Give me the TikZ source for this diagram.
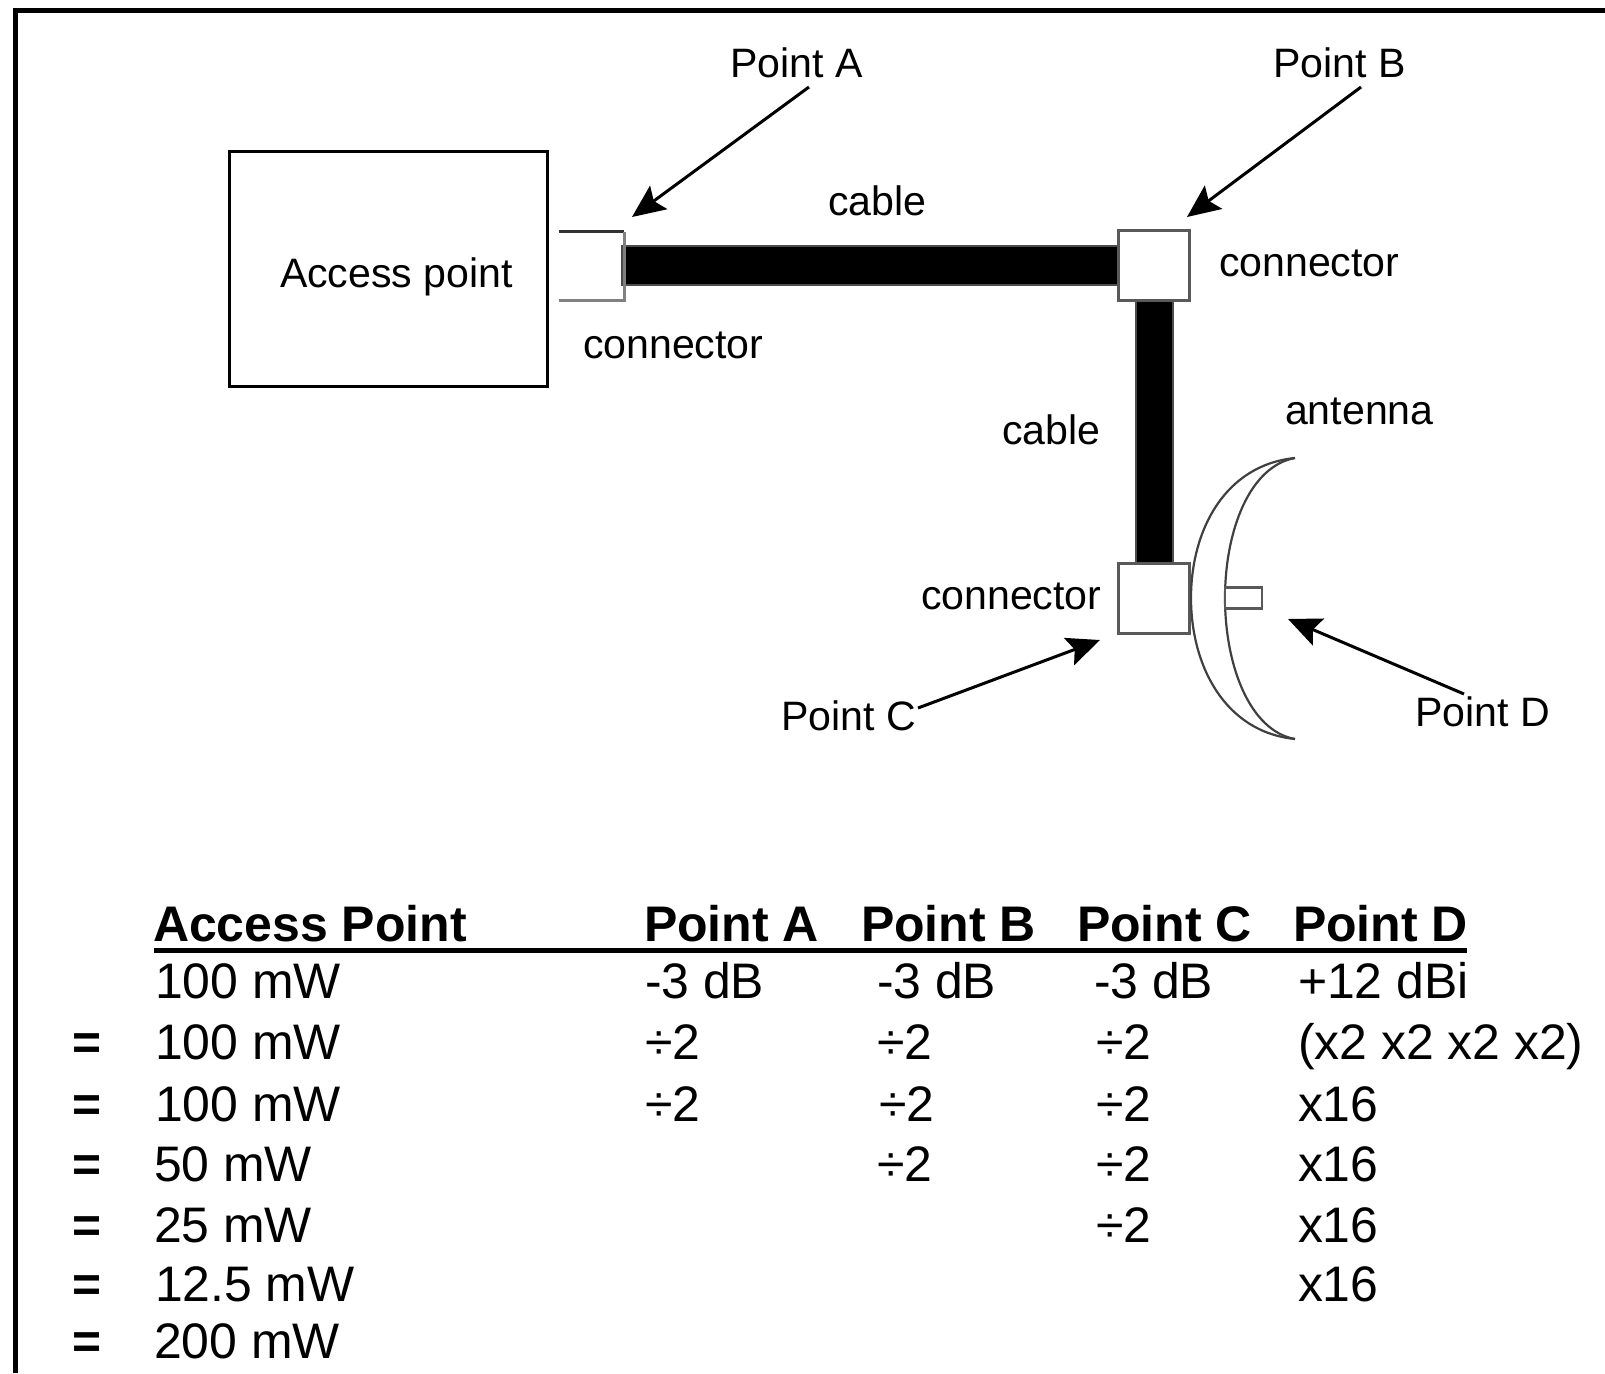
\documentclass[tikz,border=0pt]{standalone}
\usepackage{fontspec}
\setmainfont{Liberation Sans}
\usetikzlibrary{arrows.meta}
\tikzset{
  lbl/.style={anchor=base west,inner sep=0pt,outer sep=0pt,font=\fontsize{41.1}{42}\selectfont},
  cell/.style={anchor=base west,inner sep=0pt,outer sep=0pt,font=\fontsize{49.9}{50}\selectfont},
  eqs/.style={anchor=base west,inner sep=0pt,outer sep=0pt,font=\bfseries\fontsize{49.7}{50}\selectfont},
  head/.style={anchor=base west,inner sep=0pt,outer sep=0pt,font=\bfseries\fontsize{50}{50}\selectfont},
  apbox/.style={draw=black,line width=3pt,fill=white,minimum width=318pt,minimum height=235pt,inner sep=0pt},
  conbox/.style={draw=black!65,line width=3pt,fill=white,minimum width=71pt,minimum height=70pt,inner sep=0pt},
  cablel/.style={draw=black!70,line width=1.5pt,fill=black},
  ptr/.style={line width=3pt,-{Stealth[length=33pt,width=29pt,inset=6pt]},shorten >=0pt},
  dish/.style={draw=black!75,line width=2.2pt,fill=none},
}
\begin{document}
\begin{tikzpicture}[x=1pt,y=-1pt]
\useasboundingbox (0,0) rectangle (1605,1373);
\fill[white] (0,0) rectangle (1605,1373);
% frame: left and top edges only
\coordinate (fb) at (15.5,1373);
\coordinate (fc) at (15.5,10);
\coordinate (fr) at (1605,10);
\draw[line width=5pt,black] (fb) -- (fc) -- (fr);
% access point
\node[apbox] (ap) at (388.5,269) {};
\node[lbl] (aplabel) at (280,287) {Access point};
% cables
\path[cablel] (622,246) rectangle (1120,285);
\path[cablel] (1136,300) rectangle (1173,563);
% connectors
\coordinate (ca1) at (559,231.5);
\coordinate (ca2) at (624,231.5);
\coordinate (ca3) at (624,300.5);
\coordinate (ca4) at (559,300.5);
\draw[line width=3pt,black!80] (ca1) -- (ca2);
\draw[line width=3pt,black!50] (ca2) -- (ca3) -- (ca4);
\node[conbox] (conB) at (1153.5,265.5) {};
\node[conbox] (conC) at (1153.5,598) {};
% antenna
\coordinate (dtop) at (1295,458);
\coordinate (dbot) at (1295,739);
\coordinate (dout) at (1191,598);
\coordinate (din) at (1225,598);
\draw[dish] (dtop) .. controls (1225,465) and (1191,530) .. (dout) .. controls (1191,666) and (1225,732) .. (dbot);
\draw[dish] (dtop) .. controls (1250,466) and (1225,530) .. (din) .. controls (1225,666) and (1250,731) .. (dbot);
\node[draw=black!65,line width=2.5pt,fill=white,minimum width=37pt,minimum height=21pt,inner sep=0pt] (stub) at (1243.5,598) {};
% labels
\node[lbl] (ptA) at (730.5,77) {Point A};
\node[lbl] (ptB) at (1273.5,77) {Point B};
\node[lbl] (cab1) at (828,215) {cable};
\node[lbl] (conRl) at (1219,276) {connector};
\node[lbl] (conAl) at (583,358) {connector};
\node[lbl] (cab2) at (1002,444) {cable};
\node[lbl] (antl) at (1285,424) {antenna};
\node[lbl] (conCl) at (921,609) {connector};
\node[lbl] (ptC) at (781,730) {Point C};
\node[lbl] (ptD) at (1415.5,726) {Point D};
% arrows
\coordinate (aA0) at (809,87); \coordinate (aA1) at (632,217);
\coordinate (aB0) at (1361,87); \coordinate (aB1) at (1187,217);
\coordinate (aC0) at (918,708); \coordinate (aC1) at (1100,640);
\coordinate (aD0) at (1464,694); \coordinate (aD1) at (1288,619);
\draw[ptr] (aA0) -- (aA1);
\draw[ptr] (aB0) -- (aB1);
\draw[ptr] (aC0) -- (aC1);
\draw[ptr] (aD0) -- (aD1);
% table head
\node[head] (h0) at (153,941) {Access Point};
\node[head] (h1) at (644,941) {Point A};
\node[head] (h2) at (861,941) {Point B};
\node[head] (h3) at (1077,941) {Point C};
\node[head] (h4) at (1293,941) {Point D};
\coordinate (r0) at (154,950); \coordinate (r1) at (1467,950);
\draw[line width=5pt] (r0) -- (r1);
% column 1
\node[cell] (c10) at (155,998) {100 mW};
\node[cell] (c11) at (155,1059.5) {100 mW};
\node[cell] (c12) at (155,1121) {100 mW};
\node[cell] (c13) at (154,1181) {50 mW};
\node[cell] (c14) at (154,1242) {25 mW};
\node[cell] (c15) at (155,1301) {12.5 mW};
\node[cell] (c16) at (154,1358) {200 mW};
% equals
\node[eqs] (e1) at (72,1059.5) {=};
\node[eqs] (e2) at (72,1121) {=};
\node[eqs] (e3) at (72,1181) {=};
\node[eqs] (e4) at (72,1242) {=};
\node[eqs] (e5) at (72,1301) {=};
\node[eqs] (e6) at (72,1358) {=};
% point A
\node[cell] (a0) at (645,998) {-3 dB};
\node[cell] (a1) at (645,1059.5) {÷2};
\node[cell] (a2) at (645,1121) {÷2};
% point B
\node[cell] (b0) at (877,998) {-3 dB};
\node[cell] (b1) at (877,1059.5) {÷2};
\node[cell] (b2) at (879,1121) {÷2};
\node[cell] (b3) at (877,1181) {÷2};
% point C
\node[cell] (d0) at (1094,998) {-3 dB};
\node[cell] (d1) at (1096,1059.5) {÷2};
\node[cell] (d2) at (1096,1121) {÷2};
\node[cell] (d3) at (1096,1181) {÷2};
\node[cell] (d4) at (1096,1242) {÷2};
% point D
\node[cell] (f0) at (1298,998) {+12 dBi};
\node[cell] (f1) at (1298,1059.5) {(x2 x2 x2 x2)};
\node[cell] (f2) at (1298,1121) {x16};
\node[cell] (f3) at (1298,1181) {x16};
\node[cell] (f4) at (1298,1242) {x16};
\node[cell] (f5) at (1298,1301) {x16};
\end{tikzpicture}
\end{document}
